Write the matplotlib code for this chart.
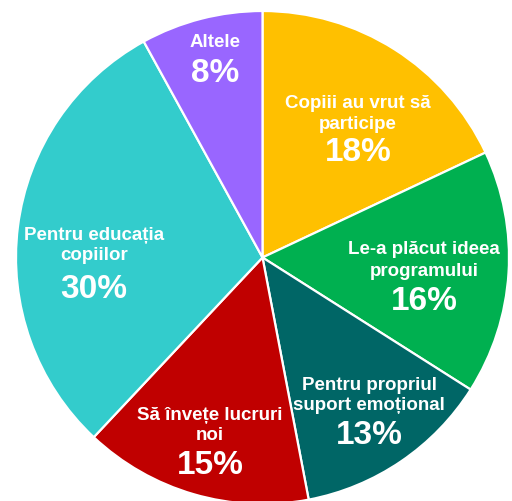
import matplotlib
matplotlib.use("Agg")
import matplotlib.pyplot as plt

categories = ["Copiii au vrut să\nparticipe", "Le-a plăcut ideea\nprogramului",
              "Pentru propriul\nsuport emoțional", "Să învețe lucruri\nnoi",
              "Pentru educația\ncopiilor", "Altele"]
values = [18, 16, 13, 15, 30, 8]
pct_labels = ["18%", "16%", "13%", "15%", "30%", "8%"]
colors = ["#FFC000", "#00B050", "#006666", "#C00000", "#33CCCC", "#9966FF"]

W, H = 512, 502
CX, CY, R = 262.5, 258.5, 246.5
# label anchor (pixel) positions: (x, y of first label line, gap to percent)
label_pos = [(358, 103, 28), (424, 250, 30), (369, 385, 30), (210, 415, 30),
             (94, 235, 33), (215, 42, 31)]

fig = plt.figure(figsize=(W / 100, H / 100), dpi=100)
ax = fig.add_axes([0, 0, 1, 1])
ax.pie(values, colors=colors, startangle=90, counterclock=False, radius=1.0,
       wedgeprops=dict(edgecolor="white", linewidth=1.6))
ax.set_xlim(-CX / R, (W - CX) / R)
ax.set_ylim(-(H - CY) / R, CY / R)
ax.set_aspect("auto")
ax.axis("off")

def d(px, py):
    return (px - CX) / R, (CY - py) / R

font = ["Liberation Sans", "DejaVu Sans"]
for cat, pct, (px, py, gap) in zip(categories, pct_labels, label_pos):
    lines = cat.split("\n")
    y = py
    for i, ln in enumerate(lines):
        ax.text(*d(px, y), ln, ha="center", va="center", color="white",
                fontsize=13.5, fontweight="bold", family=font)
        if i < len(lines) - 1:
            y += 21
    y += gap
    ax.text(*d(px, y), pct, ha="center", va="center", color="white",
            fontsize=24, fontweight="bold", family=font)

fig.savefig("out.png", dpi=100)
